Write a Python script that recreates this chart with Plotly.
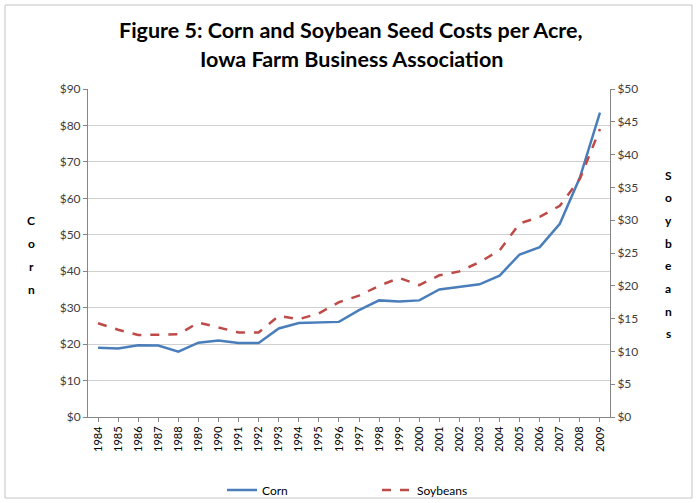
import plotly.graph_objects as go

years = [str(y) for y in range(1984, 2010)]
corn = [19.0, 18.8, 19.7, 19.6, 17.9, 20.4, 21.0, 20.3, 20.3, 24.3, 25.8, 25.9, 26.1,
        29.3, 32.0, 31.7, 32.0, 35.0, 35.6, 36.4, 38.8, 44.6, 46.6, 53.0, 65.7, 83.5]
soybeans = [14.3, 13.3, 12.5, 12.6, 12.6, 14.4, 13.7, 12.9, 12.9, 15.4, 14.9, 15.8, 17.5,
            18.5, 20.0, 21.2, 20.1, 21.6, 22.2, 23.6, 25.4, 29.5, 30.5, 32.2, 36.3, 43.9]
left_ticks = list(range(0, 91, 10))
right_ticks = list(range(0, 51, 5))
title_lines = ["Figure 5: Corn and Soybean Seed Costs per Acre,", "Iowa Farm Business Association"]
left_title = "Corn"
right_title = "Soybeans"

FONT = "Lato, 'Open Sans', sans-serif"
TXT = "#404040"

W, H = 697, 503
L, R, T, B = 88, 87, 89, 86
PW, PH = W - L - R, H - T - B


def px_to_paper(xp, yp):
    return (xp - L) / PW, (H - B - yp) / PH


fig = go.Figure()
fig.add_trace(go.Scatter(x=years, y=corn, name="Corn", mode="lines",
                         line=dict(color="#4a7ebb", width=2.5), yaxis="y"))
fig.add_trace(go.Scatter(x=years, y=soybeans, name="Soybeans", mode="lines",
                         line=dict(color="#be4b48", width=2.5, dash="dash"), yaxis="y2"))

lx, ly = px_to_paper(222, 490)
fig.update_layout(
    width=W, height=H,
    margin=dict(l=L, r=R, t=T, b=B, autoexpand=False),
    paper_bgcolor="white", plot_bgcolor="white",
    font=dict(family=FONT, size=12, color=TXT),
    xaxis=dict(type="category", range=[-0.5, 25.5], tickangle=-90,
               showline=True, linecolor="#868686", linewidth=1,
               ticks="outside", ticklen=4, tickcolor="#868686",
               showgrid=False, tickfont=dict(size=11, color="#000000")),
    yaxis=dict(range=[0, 90], tickvals=left_ticks,
               ticktext=[f"${v}" for v in left_ticks],
               showline=True, linecolor="#868686", linewidth=1,
               ticks="outside", ticklen=4, tickcolor="#868686",
               showgrid=True, gridcolor="#d0d0d0", gridwidth=1,
               zeroline=False, tickfont=dict(size=12, color=TXT)),
    yaxis2=dict(range=[0, 50], tickvals=right_ticks,
                ticktext=[f"${v}" for v in right_ticks],
                overlaying="y", side="right",
                showline=True, linecolor="#868686", linewidth=1,
                ticks="outside", ticklen=4, tickcolor="#868686",
                showgrid=False, zeroline=False, tickfont=dict(size=12, color=TXT)),
    legend=dict(orientation="h", x=lx, xanchor="left", y=ly, yanchor="middle",
                font=dict(size=12, color="#000000"),
                entrywidthmode="pixels", entrywidth=110, bgcolor="rgba(0,0,0,0)"),
    showlegend=True,
)

# title lines
for txt, yc in zip(title_lines, [30, 59]):
    _, yp = px_to_paper(0, yc)
    fig.add_annotation(text=f"<b>{txt}</b>", xref="paper", yref="paper",
                       x=(351 - L) / PW, y=yp, xanchor="center", yanchor="middle",
                       showarrow=False, font=dict(family=FONT, size=21.5, color="#000000"))

# stacked vertical axis titles
for i, ch in enumerate(left_title):
    xp, yp = px_to_paper(31, 220 + i * 23)
    fig.add_annotation(text=f"<b>{ch}</b>", xref="paper", yref="paper", x=xp, y=yp,
                       xanchor="center", yanchor="middle", showarrow=False,
                       font=dict(family=FONT, size=12, color="#000000"))
for i, ch in enumerate(right_title):
    xp, yp = px_to_paper(668, 175 + i * 22.7)
    fig.add_annotation(text=f"<b>{ch}</b>", xref="paper", yref="paper", x=xp, y=yp,
                       xanchor="center", yanchor="middle", showarrow=False,
                       font=dict(family=FONT, size=12, color="#000000"))

x0, y1 = px_to_paper(5, 5)
x1, y0 = px_to_paper(692, 498)
fig.add_shape(type="rect", xref="paper", yref="paper",
              x0=x0, x1=x1, y0=y0, y1=y1,
              line=dict(color="#c4c4c4", width=1))

fig.write_html("out.html", config={"displayModeBar": False},
               post_script="document.body.style.margin='0';")
